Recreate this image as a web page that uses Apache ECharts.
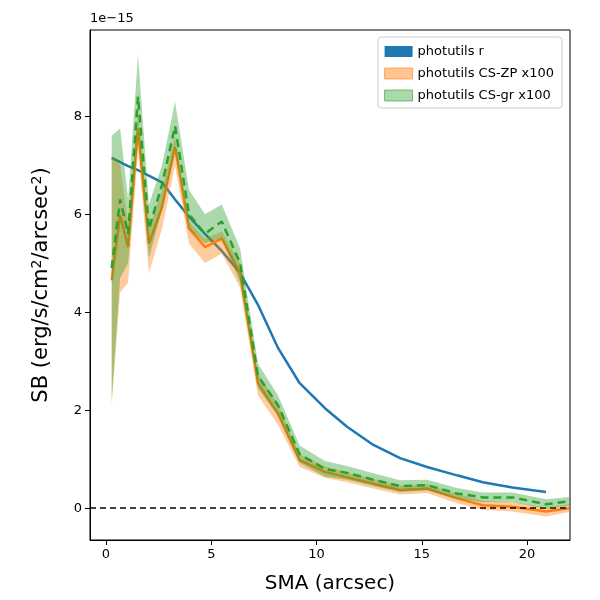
<!DOCTYPE html>
<html>
<head>
<meta charset="utf-8">
<script src="https://cdn.jsdelivr.net/npm/echarts@6/dist/echarts.min.js"></script>
<style>html,body{margin:0;padding:0;background:#fff}#c{width:600px;height:600px}</style>
</head>
<body>
<div id="c"></div>
<script>
// SMA (arcsec) sample points
const sma = [0.27, 0.67, 1.05, 1.52, 2.04, 2.66, 3.28, 3.94, 4.7, 5.5, 6.37, 7.22, 8.17, 9.2, 10.4, 11.45, 12.7, 13.97, 15.25, 16.67, 17.9, 19.3, 20.9, 22.0]
// SB in units of 1e-15
const smaR = [0.27, 1.05, 1.52, 2.66, 3.28, 3.94, 4.7, 5.5, 6.37, 7.22, 8.17, 9.2, 10.4, 11.45, 12.7, 13.97, 15.25, 16.67, 17.9, 19.3, 20.9]
const sbR = [7.15, 6.98, 6.9, 6.65, 6.3, 5.95, 5.6, 5.25, 4.8, 4.15, 3.27, 2.55, 2.04, 1.66, 1.29, 1.02, 0.84, 0.67, 0.53, 0.42, 0.33]

const sbZP = [4.65, 5.98, 5.33, 7.75, 5.4, 6.14, 7.37, 5.71, 5.33, 5.5, 4.8, 2.55, 1.93, 0.98, 0.74, 0.63, 0.5, 0.37, 0.4, 0.2, 0.06, 0.03, -0.07, 0.0]
const zpLo = [2.1, 4.4, 4.6, 7.3, 4.8, 5.7, 7.0, 5.4, 5.0, 5.2, 4.5, 2.3, 1.7, 0.84, 0.62, 0.53, 0.4, 0.28, 0.31, 0.1, -0.04, -0.07, -0.17, -0.08]
const zpHi = [7.2, 7.0, 5.8, 8.1, 5.7, 6.5, 7.6, 5.85, 5.5, 5.65, 5.0, 2.75, 2.12, 1.1, 0.85, 0.73, 0.6, 0.46, 0.49, 0.29, 0.15, 0.12, 0.02, 0.08]

const sbGR = [4.9, 6.3, 5.6, 8.4, 5.7, 6.6, 7.8, 6.0, 5.6, 5.85, 5.0, 2.7, 2.1, 1.1, 0.8, 0.72, 0.58, 0.45, 0.47, 0.3, 0.22, 0.22, 0.08, 0.14]
const grLo = [2.2, 4.7, 5.0, 7.6, 5.1, 6.1, 7.3, 5.7, 5.4, 5.5, 4.6, 2.45, 1.88, 0.92, 0.64, 0.58, 0.45, 0.33, 0.36, 0.19, 0.12, 0.12, -0.01, 0.05]
const grHi = [7.6, 7.75, 6.3, 9.25, 6.2, 7.0, 8.3, 6.5, 6.0, 6.2, 5.3, 2.95, 2.3, 1.28, 0.96, 0.86, 0.71, 0.57, 0.58, 0.41, 0.32, 0.32, 0.18, 0.23]

const xTicks = [0, 5, 10, 15, 20]
const yTicks = [0, 2, 4, 6, 8]

const pairs = (xs, ys) => xs.map((x, i) => [x, ys[i]])

// filled band between lo and hi, drawn as one polygon through the axis scales
const band = (name, lo, hi, color, z) => ({
  name, type: 'custom', z, silent: true,
  itemStyle: { color },
  data: [[sma[0], lo[0]]],
  renderItem: (params, api) => {
    const top = sma.map((x, i) => api.coord([x, hi[i]]))
    const bot = sma.map((x, i) => api.coord([x, lo[i]])).reverse()
    return {
      type: 'polygon',
      shape: { points: top.concat(bot) },
      style: { fill: color, opacity: 0.4 }
    }
  }
})

const chart = echarts.init(document.getElementById('c'))
chart.setOption({
  animation: false,
  textStyle: { fontFamily: 'DejaVu Sans' },
  grid: { left: 90, right: 30, top: 30, bottom: 60, show: true, borderColor: '#000', borderWidth: 1 },
  legend: {
    right: 38, top: 37, orient: 'vertical', itemWidth: 28, itemHeight: 11, itemGap: 9,
    borderColor: '#ccc', borderWidth: 1, borderRadius: 3, padding: [8, 8, 6, 6],
    backgroundColor: 'rgba(255,255,255,0.8)', z: 20,
    textStyle: { fontSize: 13, color: '#000' },
    data: [
      { name: 'photutils r', icon: 'rect', itemStyle: { color: '#1f77b4' } },
      { name: 'photutils CS-ZP x100', icon: 'rect', itemStyle: { color: 'rgba(255,127,14,0.45)', borderColor: 'rgba(255,127,14,0.6)', borderWidth: 1 } },
      { name: 'photutils CS-gr x100', icon: 'rect', itemStyle: { color: 'rgba(44,160,44,0.4)', borderColor: 'rgba(44,160,44,0.6)', borderWidth: 1 } }
    ]
  },
  graphic: [{ type: 'text', left: 90, top: 12, style: { text: '1e\u221215', fontSize: 13, fill: '#000', fontFamily: 'DejaVu Sans' } }],
  xAxis: {
    type: 'value', min: -0.76, max: 22.04,
    name: 'SMA (arcsec)', nameLocation: 'middle', nameGap: 34,
    nameTextStyle: { fontSize: 20, color: '#000' },
    splitLine: { show: false },
    axisLine: { onZero: false, lineStyle: { color: '#000' } },
    axisTick: { length: 5, lineStyle: { color: '#000' }, customValues: xTicks },
    axisLabel: { fontSize: 13, color: '#000', customValues: xTicks }
  },
  yAxis: {
    type: 'value', min: -0.65, max: 9.76,
    name: 'SB (erg/s/cm{s|2}/arcsec{s|2})', nameLocation: 'middle', nameGap: 36,
    nameTextStyle: { fontSize: 21, color: '#000', rich: { s: { fontSize: 14, verticalAlign: 'top', padding: [0, 0, 10, 0] } } },
    splitLine: { show: false },
    axisLine: { onZero: false, lineStyle: { color: '#000' } },
    axisTick: { length: 5, lineStyle: { color: '#000' }, customValues: yTicks },
    axisLabel: { fontSize: 13, color: '#000', customValues: yTicks }
  },
  series: [
    { name: 'photutils r', type: 'line', data: pairs(smaR, sbR), symbol: 'none',
      lineStyle: { color: '#1f77b4', width: 2.5 }, itemStyle: { color: '#1f77b4' }, z: 2,
      markLine: { silent: true, symbol: 'none', label: { show: false },
        lineStyle: { color: '#000', type: [6, 4], width: 1.5 }, data: [{ yAxis: 0 }] } },
    band('photutils CS-ZP x100', zpLo, zpHi, '#ff7f0e', 3),
    { name: 'zp', type: 'line', data: pairs(sma, sbZP), symbol: 'none',
      lineStyle: { color: '#ff7f0e', width: 2.5 }, z: 4 },
    band('photutils CS-gr x100', grLo, grHi, '#2ca02c', 5),
    { name: 'gr', type: 'line', data: pairs(sma, sbGR), symbol: 'none',
      lineStyle: { color: '#2ca02c', width: 2.5, type: [8, 5] }, z: 6 }
  ]
})
</script>
</body>
</html>
